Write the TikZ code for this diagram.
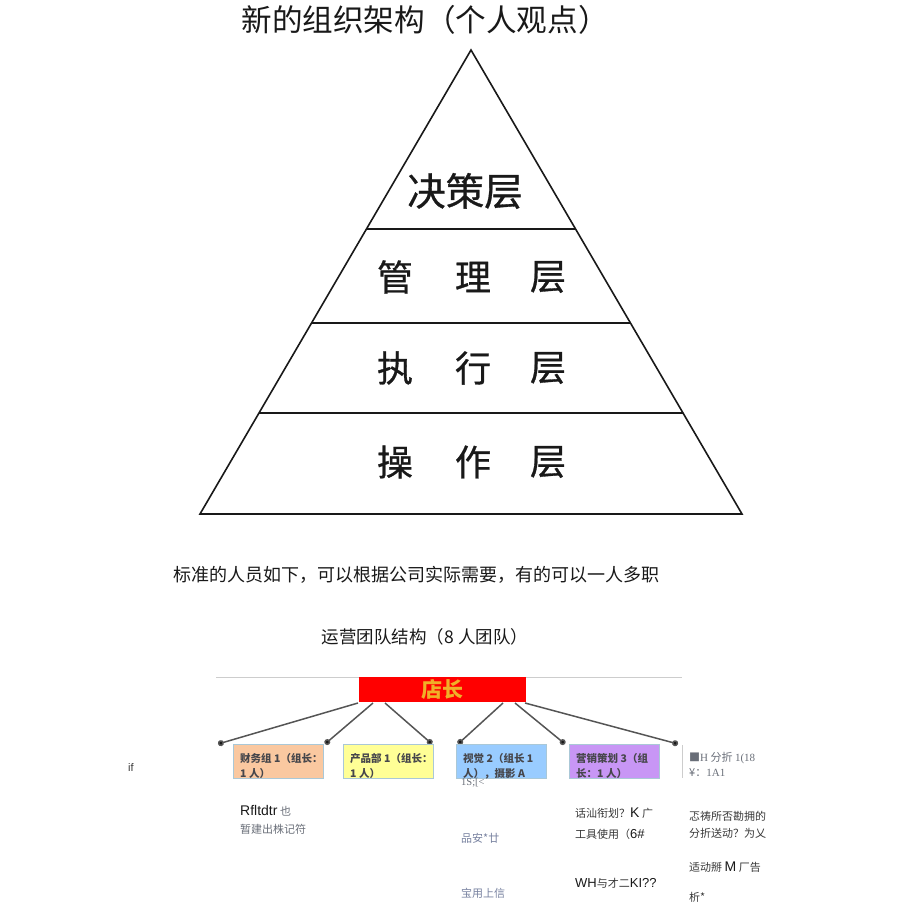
\documentclass[tikz,border=0pt]{standalone}
\usepackage{fontspec}
\setmainfont{Liberation Serif}
\newfontfamily\cjk{Noto Sans CJK SC}
\newfontfamily\cjkmed[FakeBold=0.8]{Noto Sans CJK SC}
\newfontfamily\lsans{Liberation Sans}
\usetikzlibrary{arrows.meta}
\newcommand\fsz[1]{\fontsize{#1}{#1}\selectfont}
\definecolor{ink}{RGB}{25,25,25}
\definecolor{arrowgray}{RGB}{85,85,85}
\definecolor{rulegray}{RGB}{205,205,205}
\definecolor{bossred}{RGB}{255,0,0}
\definecolor{bossgold}{RGB}{240,175,40}
\definecolor{boxorange}{RGB}{250,200,160}
\definecolor{boxyellow}{RGB}{255,255,150}
\definecolor{boxblue}{RGB}{153,204,255}
\definecolor{boxpurple}{RGB}{200,150,245}
\definecolor{boxedge}{RGB}{170,200,215}
\definecolor{boxink}{RGB}{70,70,75}
\definecolor{noteink}{RGB}{55,55,55}
\definecolor{notegray}{RGB}{105,110,120}
\definecolor{noteblue}{RGB}{120,130,160}
\begin{document}
\begin{tikzpicture}[x=1pt,y=-1pt,
  pyrside/.style={draw=ink,line width=1.6pt,line join=miter},
  pyrrule/.style={draw=ink,line width=2.6pt},
  layerch/.style={font=\cjkmed\fsz{36},text=ink,inner sep=0pt},
  orgbox/.style={draw=boxedge,line width=0.8pt,minimum width=90pt,minimum height=34pt,anchor=north west,inner sep=0pt},
  boxtxt/.style={font=\cjk\bfseries\fontsize{10.5}{15}\selectfont,text=boxink,align=left,anchor=north west,inner sep=0pt},
  orgarrow/.style={draw=arrowgray,line width=1.5pt,-{Circle[length=6pt,fill=ink]}},
  note/.style={anchor=west,inner sep=0pt,font=\cjk\fsz{11},text=noteink}
]
\useasboundingbox (0,0) rectangle (920,920);
% title
\node[font=\cjk\fsz{30.6},text=ink,inner sep=0pt] (title) at (425,20) {新的组织架构（个人观点）};
% pyramid
\coordinate (apex) at (471,50);
\coordinate (bl) at (200,514);
\coordinate (br) at (742,514);
\draw[pyrside] (apex) -- (bl) -- (br) -- cycle;
\coordinate (l1) at (366.7,229); \coordinate (r1) at (575.3,229);
\coordinate (l2) at (311.9,323); \coordinate (r2) at (630.1,323);
\coordinate (l3) at (259.4,413); \coordinate (r3) at (682.6,413);
\draw[pyrrule] (l1) -- (r1);
\draw[pyrrule] (l2) -- (r2);
\draw[pyrrule] (l3) -- (r3);
\node[layerch,font=\cjkmed\fsz{38.5}] (jc) at (465,191) {决策层};
\node[layerch] (g1) at (395,277) {管};
\node[layerch] (g2) at (473,277) {理};
\node[layerch] (g3) at (548,277) {层};
\node[layerch] (z1) at (395,368) {执};
\node[layerch] (z2) at (473,368) {行};
\node[layerch] (z3) at (548,368) {层};
\node[layerch] (c1) at (395,462) {操};
\node[layerch] (c2) at (473,462) {作};
\node[layerch] (c3) at (548,462) {层};
% text lines
\node[font=\cjk\fsz{18},text=ink,inner sep=0pt] (std) at (416,575) {标准的人员如下，可以根据公司实际需要，有的可以一人多职};
\node[font=\cjk\fsz{17.5},text=ink,inner sep=0pt] (team) at (425,637) {运营团队结构（8 人团队）};
% org chart
\coordinate (ruleL) at (216,677); \coordinate (ruleR) at (682,677);
\draw[rulegray,line width=0.8pt] (ruleL) -- (ruleR);
\node[fill=bossred,minimum width=167pt,minimum height=25pt,inner sep=0pt,anchor=north west] (boss) at (359,677) {};
\node[font=\cjk\bfseries\fsz{21},text=bossgold,inner sep=0pt] (bosst) at (boss.center) {店长};
\coordinate (s1) at (358,703); \coordinate (e1) at (218,744);
\coordinate (s2) at (373,703); \coordinate (e2) at (325,744);
\coordinate (s3) at (385,703); \coordinate (e3) at (432,744);
\coordinate (s4) at (503,703); \coordinate (e4) at (458,744);
\coordinate (s5) at (515,703); \coordinate (e5) at (565,744);
\coordinate (s6) at (525,703); \coordinate (e6) at (678,744);
\foreach \i in {1,...,6} \draw[orgarrow] (s\i) -- (e\i);
\node[orgbox,fill=boxorange] (fin) at (233,744) {};
\node[orgbox,fill=boxyellow] (prod) at (343,744) {};
\node[orgbox,fill=boxblue] (vis) at (456,744) {};
\node[orgbox,fill=boxpurple] (mkt) at (569,744) {};
\path (fin.north west) ++(7,9) node[boxtxt] (fint) {财务组 1（组长：\\1 人）};
\path (prod.north west) ++(7,9) node[boxtxt] (prodt) {产品部 1（组长：\\1 人）};
\path (vis.north west) ++(7,9) node[boxtxt] (vist) {视觉 2（组长 1\\人），摄影 A};
\path (mkt.north west) ++(7,9) node[boxtxt] (mktt) {营销策划 3（组\\长：1 人）};
\coordinate (vt) at (682,745); \coordinate (vb) at (682,778);
\draw[rulegray,line width=0.8pt] (vt) -- (vb);
% scattered notes
\node[note,font=\lsans\fsz{11}] (n1) at (128,768) {if};
\node[note] (n2) at (240,811) {{\lsans\fsz{14}\color{ink}Rfltdtr} {\color{notegray}也}};
\node[note,text=notegray] (n3) at (240,829) {暂建出株记符};
\node[note,font=\rmfamily\fsz{10.5},text=notegray] (n4) at (461,783) {1S;[<};
\node[note,text=noteblue] (n5) at (461,838) {品安*廿};
\node[note,text=noteblue] (n6) at (461,893) {宝用上信};
\node[note] (n7) at (575,813) {话汕衔划？{\lsans\fsz{14}\color{ink}K} 广};
\node[note] (n8) at (575,834) {工具使用（{\lsans\fsz{13}\color{ink}6\#}};
\node[note] (n9) at (575,883) {{\lsans\fsz{13}\color{ink}WH}与才二{\lsans\fsz{13}\color{ink}KI??}};
\node[note,text=notegray] (n10) at (689,758) {■{\rmfamily\fsz{11}H} 分折 {\rmfamily\fsz{11}1(18}};
\node[note,text=notegray] (n11) at (689,773) {¥：{\rmfamily\fsz{11}1A1}};
\node[note] (n12) at (689,816) {忑祷所否勘拥的};
\node[note] (n13) at (689,833) {分折送动？为乂};
\node[note] (n14) at (689,867) {适动掰 {\lsans\fsz{14}\color{ink}M} 厂告};
\node[note] (n15) at (689,897) {析*};
\end{tikzpicture}
\end{document}
